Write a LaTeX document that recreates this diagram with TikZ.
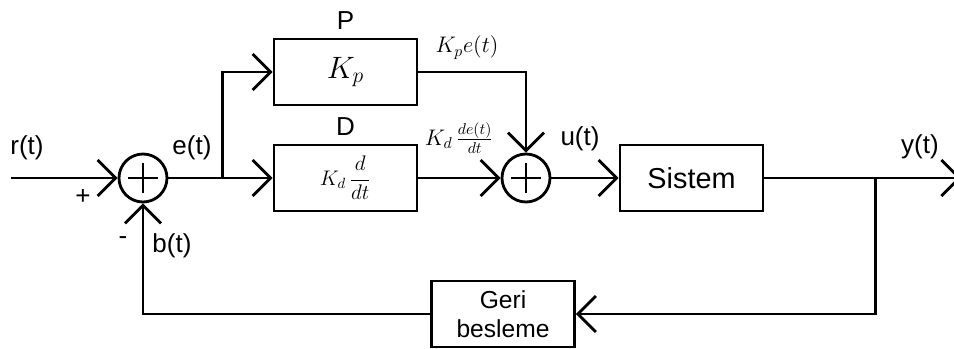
\RequirePackage{fix-cm}
\documentclass[tikz,border=0pt]{standalone}
\usepackage{amsmath}
\usepackage{fontspec}
\setmainfont{Liberation Sans}
\usetikzlibrary{arrows.meta,positioning,calc}
\tikzset{
  blk/.style={draw, line width=0.7mm, minimum width=35.75mm, minimum height=16.5mm, inner sep=2pt, align=center},
  arr/.style={-{Straight Barb[length=4.5mm, width=9mm]}, line width=0.7mm},
  ln/.style={line width=0.7mm},
  sumop/.style={draw, circle, line width=0.7mm, minimum size=12mm, inner sep=0pt},
  lbl/.style={inner sep=0pt, font=\fontsize{18.5pt}{22pt}\selectfont},
  mlbl/.style={inner sep=0pt, font=\fontsize{16pt}{19pt}\selectfont},
}
\begin{document}
\begin{tikzpicture}[node distance=10mm]
  \path[use as bounding box, fill=white] (-35.75mm,-42.75mm) rectangle (202.75mm,44.5mm);
  \node[sumop] (sum1) at (0,0) {};
  \node[blk, right=26.05mm of sum1, font=\fontsize{15pt}{18pt}\selectfont] (kd) {$K_d\,\dfrac{d}{dt}$};
  \node[blk, above=9.3mm of kd, font=\fontsize{22pt}{26pt}\selectfont] (kp) {$K_p$};
  \node[sumop, right=20.55mm of kd] (sum2) {};
  \node[blk, right=16.8mm of sum2, font=\fontsize{20.5pt}{24pt}\selectfont] (sis) {Sistem};
  \node[blk, below=19.05mm of sum2, xshift=-5.75mm, font=\fontsize{17.5pt}{20.6pt}\selectfont] (fb) {Geri\\besleme};
  \node[lbl, above=2mm of kp] (plbl) {P};
  \node[lbl, above=2mm of kd] (dlbl) {D};
  \coordinate (in) at (-33mm,0);
  \coordinate[right=13.5mm of sum1] (eb);
  \coordinate[right=27.75mm of sis] (yb);
  \coordinate[right=49.25mm of sis] (out);
  \node[lbl] (rl) at (-29mm,7.5mm) {r(t)};
  \node[lbl] (pl) at (-15mm,-4.75mm) {+};
  \node[lbl] (ml) at (-5mm,-15.75mm) {-};
  \node[lbl] (el) at (12.25mm,7.5mm) {e(t)};
  \node[lbl] (bl) at (7.25mm,-17mm) {b(t)};
  \node[mlbl] (kpl) at (81mm,32.6mm) {$K_pe(t)$};
  \node[mlbl] (kdl) at (79mm,10mm) {$K_d\,\frac{de(t)}{dt}$};
  \node[lbl] (ul) at (109.25mm,9.75mm) {u(t)};
  \node[lbl] (yl) at (194.25mm,7.75mm) {y(t)};
  \draw[arr] (in) -- (sum1);
  \draw[arr] (sum1) -- (kd);
  \draw[arr] (eb) |- (kp);
  \draw[arr] (kp) -| (sum2);
  \draw[arr] (kd) -- (sum2);
  \draw[arr] (sum2) -- (sis);
  \draw[arr] (sis) -- (out);
  \draw[arr] (yb) |- (fb);
  \draw[arr] (fb) -| (sum1);
  \foreach \s in {sum1,sum2}
    \draw[ln] (\s.center) +(-3.75mm,0) -- +(3.75mm,0) +(0,-3.75mm) -- +(0,3.75mm);
\end{tikzpicture}
\end{document}
